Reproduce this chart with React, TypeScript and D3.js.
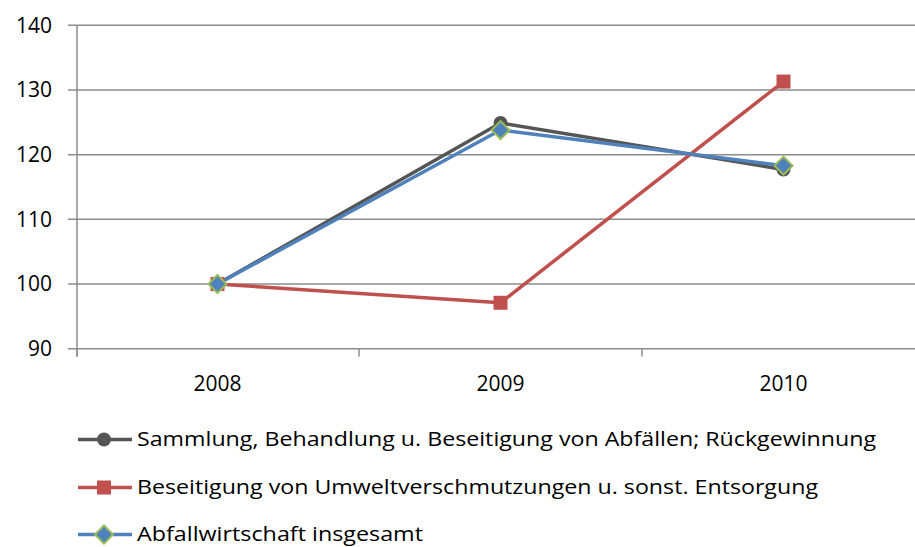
import * as d3 from 'd3';

const years = ['2008', '2009', '2010'];
const sammlung = [100, 124.9, 117.7];
const beseitigung = [100, 97.1, 131.3];
const insgesamt = [100, 123.8, 118.3];
const yTicks = [90, 100, 110, 120, 130, 140];

const seriesNames = [
  'Sammlung, Behandlung u. Beseitigung von Abfällen; Rückgewinnung',
  'Beseitigung von Umweltverschmutzungen u. sonst. Entsorgung',
  'Abfallwirtschaft insgesamt'
];
// widths of the legend texts as measured on the reference
const legendWidths = [739, 681, 286];

const W = 915;
const H = 547;
const font = '"Open Sans", sans-serif';
const gridColor = '#8c8c8c';

type Series = { name: string; values: number[]; color: string; marker: 'circle' | 'square' | 'diamond' };

const series: Series[] = [
  { name: seriesNames[0], values: sammlung, color: '#555555', marker: 'circle' },
  { name: seriesNames[1], values: beseitigung, color: '#c0504d', marker: 'square' },
  { name: seriesNames[2], values: insgesamt, color: '#4f81bd', marker: 'diamond' }
];

function Marker({ kind, x, y, color }: { kind: Series['marker']; x: number; y: number; color: string }) {
  if (kind === 'circle') return <circle cx={x} cy={y} r={7} fill={color} />;
  if (kind === 'square') return <rect x={x - 7} y={y - 7} width={14} height={14} fill={color} />;
  const s = 9;
  return (
    <path
      d={`M${x},${y - s}L${x + s},${y}L${x},${y + s}L${x - s},${y}Z`}
      fill={color}
      stroke="#9bbb59"
      strokeWidth={2}
    />
  );
}

export default function App() {
  const x = d3.scaleBand().domain(years).range([76, 925]);
  const y = d3.scaleLinear().domain([90, 140]).range([348.7, 25.3]);
  const cx = (d: string) => (x(d) as number) + x.bandwidth() / 2;

  const line = d3
    .line<number>()
    .x((_, i) => cx(years[i]))
    .y((v) => y(v));

  const bounds = years.map((d) => x(d) as number);

  const legendY = [439.5, 487.5, 534.5];

  return (
    <svg width={W} height={H} style={{ position: 'absolute', left: 0, top: 0 }} fontFamily={font}>
      <rect width={W} height={H} fill="#fff" />
      {yTicks.map((t) => (
        <g key={t}>
          <line x1={68} x2={W} y1={y(t)} y2={y(t)} stroke={gridColor} strokeWidth={1.5} />
          <text x={52} y={y(t) + 7.4} textAnchor="end" fontSize={21} fill="#000">
            {t}
          </text>
        </g>
      ))}
      <line x1={77} x2={77} y1={y(140)} y2={356.5} stroke={gridColor} strokeWidth={1.5} />
      {bounds.map((b, i) => (
        <line key={i} x1={i === 0 ? 77 : b} x2={i === 0 ? 77 : b} y1={y(90)} y2={356.5} stroke={gridColor} strokeWidth={1.5} />
      ))}
      {years.map((d) => (
        <text key={d} x={cx(d)} y={391} textAnchor="middle" fontSize={21} fill="#000">
          {d}
        </text>
      ))}
      {series.map((s) => (
        <path key={s.name} d={line(s.values) as string} fill="none" stroke={s.color} strokeWidth={3.5} strokeLinejoin="round" />
      ))}
      {series.map((s) =>
        s.values.map((v, i) => <Marker key={s.name + i} kind={s.marker} x={cx(years[i])} y={y(v)} color={s.color} />)
      )}
      {series.map((s, i) => (
        <g key={'leg' + i}>
          <line x1={78} x2={132} y1={legendY[i]} y2={legendY[i]} stroke={s.color} strokeWidth={3.5} />
          <Marker kind={s.marker} x={104} y={legendY[i]} color={s.color} />
          <text
            x={137}
            y={legendY[i] + 6.5}
            fontSize={20}
            fill="#000"
            textLength={legendWidths[i]}
            lengthAdjust="spacingAndGlyphs"
          >
            {s.name}
          </text>
        </g>
      ))}
    </svg>
  );
}
